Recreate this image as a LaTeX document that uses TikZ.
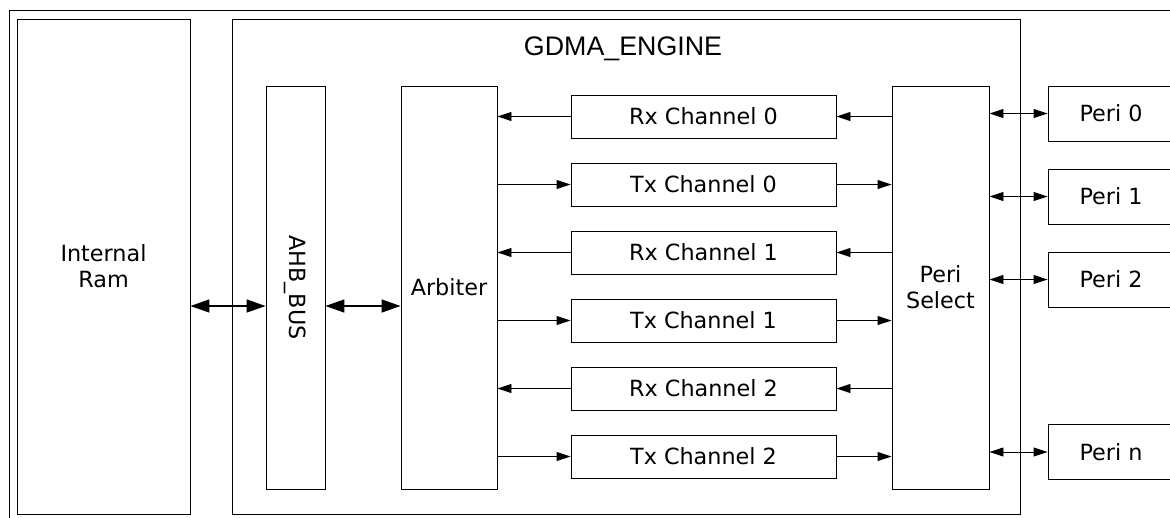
\documentclass[tikz,border=0pt]{standalone}
\usepackage{fontspec}
\setmainfont{DejaVu Sans}
\newfontfamily\gdmafont{Liberation Sans}
\usetikzlibrary{arrows.meta}

\tikzset{
  every node/.style={font=\fontsize{22.3}{26}\selectfont},
  blk/.style={draw, line width=0.9pt, inner sep=0pt, align=center},
  chbox/.style={blk, minimum width=265pt, minimum height=43pt},
  peribox/.style={blk, minimum width=126pt, minimum height=55pt},
  tallbox/.style={blk, minimum height=403pt},
  sarr/.style={line width=0.9pt, -{Triangle[length=14pt,width=9pt]}},
  parr/.style={line width=0.9pt, {Triangle[length=14pt,width=9pt]}-{Triangle[length=14pt,width=9pt]}},
  barr/.style={line width=1.5pt, {Triangle[length=19pt,width=13pt]}-{Triangle[length=19pt,width=13pt]}}
}

\begin{document}
\begin{tikzpicture}[x=1pt,y=-1pt]
        \useasboundingbox (0,0) rectangle (1170,517);
        \clip (0,0) rectangle (1170,517);
        % Draw outer frame
        \draw[line width=0.9pt] (9,530) -- (9,10) -- (1185,10);

        % Draw main blocks
        \node[blk, minimum width=173pt, minimum height=495pt] (ram) at (103.5,266.5) {Internal\\Ram};
        \node[blk, minimum width=788pt, minimum height=495pt] (engine) at (626,266.5) {};
        \node[anchor=base, font=\gdmafont\fontsize{26.8}{30}\selectfont] (title) at (623,55) {GDMA\_ENGINE};
        \node[tallbox, minimum width=59pt] (ahb) at (295.5,287.5) {};
        \node[rotate=-90] (ahblabel) at (ahb) {AHB\_BUS};
        \node[tallbox, minimum width=96pt] (arb) at (449,287.5) {Arbiter};
        \node[tallbox, minimum width=97pt] (sel) at (940.5,287.5) {Peri\\Select};

        % Draw bus arrows
        \coordinate (bus) at (0,306);
        \draw[barr] (ram.east |- bus) -- (ahb.west |- bus);
        \draw[barr] (ahb.east |- bus) -- (arb.west |- bus);

        % Draw channels
        \foreach \i in {0,1,2} {
            \node[chbox] (rx\i) at (703.5,{116.5+136*\i}) {Rx Channel \i};
            \node[chbox] (tx\i) at (703.5,{184.5+136*\i}) {Tx Channel \i};
            \draw[sarr] (sel.west |- rx\i) -- (rx\i);
            \draw[sarr] (rx\i) -- (rx\i -| arb.east);
            \draw[sarr] (arb.east |- tx\i) -- (tx\i);
            \draw[sarr] (tx\i) -- (tx\i -| sel.west);
        }

        % Draw peripherals
        \node[peribox] (peri0) at (1111,113.5) {Peri 0};
        \node[peribox] (peri1) at (1111,196.5) {Peri 1};
        \node[peribox] (peri2) at (1111,279.5) {Peri 2};
        \node[peribox] (perin) at (1111,452) {Peri n};
        \foreach \p in {peri0,peri1,peri2,perin}
            \draw[parr] (sel.east |- \p) -- (\p);
    \end{tikzpicture}
\end{document}
